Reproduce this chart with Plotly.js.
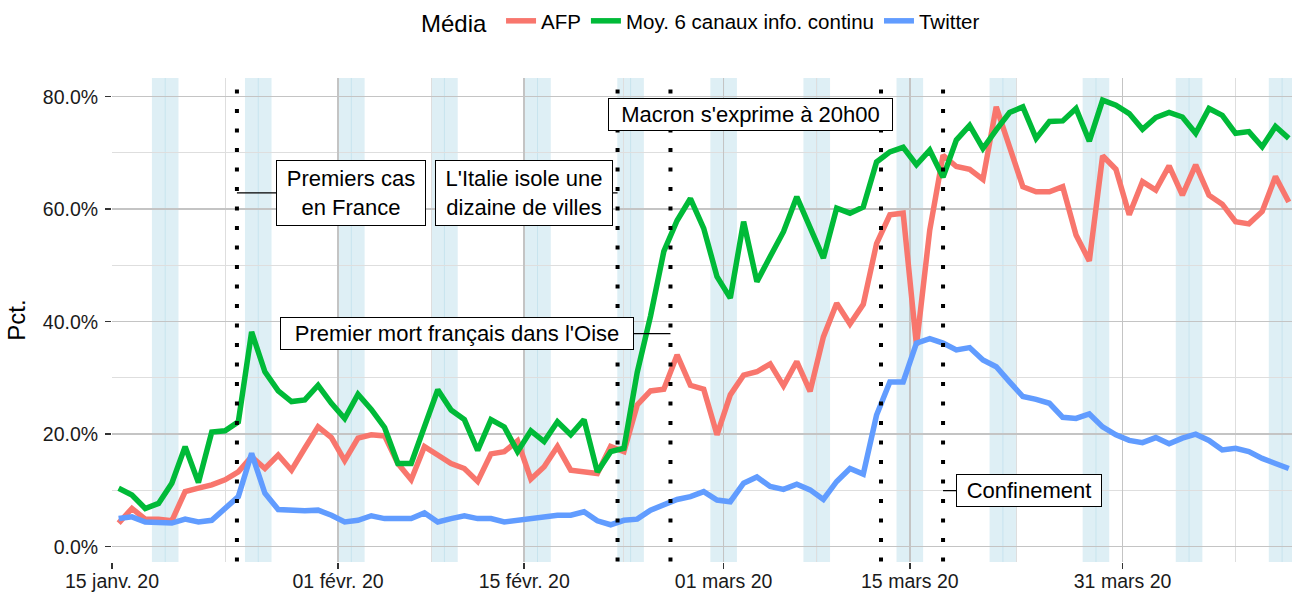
<!DOCTYPE html>
<html><head><meta charset="utf-8">
<script src="https://cdn.plot.ly/plotly-3.0.1.min.js"></script>
<style>html,body{margin:0;padding:0;background:#fff}#chart{width:1292px;height:592px}</style>
</head><body><div id="chart"></div>
<script>
// ---- data (daily values, %) ----
const days = [
"2020-01-15","2020-01-16","2020-01-17","2020-01-18","2020-01-19","2020-01-20","2020-01-21","2020-01-22","2020-01-23","2020-01-24",
"2020-01-25","2020-01-26","2020-01-27","2020-01-28","2020-01-29","2020-01-30","2020-01-31",
"2020-02-01","2020-02-02","2020-02-03","2020-02-04","2020-02-05","2020-02-06","2020-02-07","2020-02-08","2020-02-09","2020-02-10",
"2020-02-11","2020-02-12","2020-02-13","2020-02-14","2020-02-15","2020-02-16","2020-02-17","2020-02-18","2020-02-19","2020-02-20",
"2020-02-21","2020-02-22","2020-02-23","2020-02-24","2020-02-25","2020-02-26","2020-02-27","2020-02-28","2020-02-29",
"2020-03-01","2020-03-02","2020-03-03","2020-03-04","2020-03-05","2020-03-06","2020-03-07","2020-03-08","2020-03-09","2020-03-10",
"2020-03-11","2020-03-12","2020-03-13","2020-03-14","2020-03-15","2020-03-16","2020-03-17","2020-03-18","2020-03-19","2020-03-20",
"2020-03-21","2020-03-22","2020-03-23","2020-03-24","2020-03-25","2020-03-26","2020-03-27","2020-03-28","2020-03-29","2020-03-30","2020-03-31",
"2020-04-01","2020-04-02","2020-04-03","2020-04-04","2020-04-05","2020-04-06","2020-04-07","2020-04-08","2020-04-09","2020-04-10",
"2020-04-11","2020-04-12"];

const afp = [
4.2,6.8,4.9,4.9,4.6,9.8,10.4,11.0,11.9,13.3,
16.0,13.9,16.3,13.6,17.5,21.3,19.4,
15.3,19.3,19.9,19.7,14.8,11.9,17.8,16.3,14.8,13.9,
11.6,16.5,16.9,18.8,12.0,14.2,17.8,13.6,13.3,13.0,
17.8,16.9,25.2,27.7,28.0,34.1,28.7,28.0,19.9,
27.0,30.5,31.1,32.5,28.6,32.9,27.6,37.3,43.3,39.6,
43.1,53.9,59.0,59.3,35.8,56.3,69.6,67.6,67.1,65.3,
78.2,71.1,64.0,63.1,63.1,64.0,55.4,50.8,69.5,67.1,59.0,
64.9,63.4,67.7,62.5,67.9,62.5,60.9,57.8,57.4,59.6,
65.8,61.3];

const infoContinu = [
10.4,9.2,6.8,7.7,11.3,17.8,11.4,20.4,20.6,22.2,
38.2,31.1,27.7,25.8,26.1,28.7,25.5,
22.8,27.1,24.4,21.2,14.8,14.8,21.2,27.9,24.3,22.6,
17.1,22.6,21.3,16.9,20.6,18.7,22.2,19.9,22.6,13.3,
16.9,17.5,31.0,41.0,52.5,58.0,61.9,56.6,48.0,
44.2,57.8,47.1,51.6,56.0,62.2,56.6,51.3,60.2,59.3,
60.4,68.4,70.2,71.0,67.9,70.5,65.7,72.3,74.9,70.8,
74.1,77.2,78.2,72.6,75.6,75.7,77.9,72.1,79.4,78.5,77.0,
74.2,76.3,77.2,76.4,73.5,77.9,76.7,73.5,73.8,71.1,
74.7,72.6];

const twitter = [
5.0,5.3,4.4,4.4,4.2,4.9,4.4,4.7,6.8,8.9,
16.6,9.5,6.6,6.4,6.4,6.5,5.6,
4.4,4.7,5.5,5.0,5.0,5.0,6.0,4.4,5.0,5.5,
5.0,5.0,4.4,4.7,5.0,5.5,5.6,5.6,6.2,4.6,
3.9,4.7,4.9,6.5,7.4,8.4,8.9,9.8,8.3,
8.0,11.3,12.4,10.7,10.2,11.1,10.1,8.4,11.6,13.9,
12.9,23.4,29.3,29.3,36.2,37.0,36.2,35.0,35.4,33.2,
32.0,29.3,26.7,26.2,25.5,23.0,22.8,23.6,21.3,19.9,18.9,
18.5,19.4,18.3,19.3,20.0,18.9,17.2,17.5,16.9,15.7,
14.8,13.9];

const seriesNames = ["AFP", "Moy. 6 canaux info. continu", "Twitter"];
const seriesValues = [afp, infoContinu, twitter];
const seriesColors = ["#F8766D", "#00BA38", "#619CFF"];

const weekendStarts = ["2020-01-18","2020-01-25","2020-02-01","2020-02-08","2020-02-15","2020-02-22","2020-02-29",
  "2020-03-07","2020-03-14","2020-03-21","2020-03-28","2020-04-04","2020-04-11"];

const eventTimes = ["2020-01-24 09:30","2020-02-22 00:30","2020-02-26 00:00","2020-03-12 20:00","2020-03-17 12:00"];
const eventLabels = ["Premiers cas<br>en France","L'Italie isole une<br>dizaine de villes",
  "Premier mort français dans l'Oise","Macron s'exprime à 20h00","Confinement"];

const xTickVals = ["2020-01-15","2020-02-01","2020-02-15","2020-03-01","2020-03-15","2020-03-31"];
const xTickText = ["15 janv. 20","01 févr. 20","15 févr. 20","01 mars 20","15 mars 20","31 mars 20"];
const xMinorVals = ["2020-01-23 12:00","2020-02-08","2020-02-22 12:00","2020-03-08","2020-03-23","2020-04-08 12:00"];
const yTickVals = [0, 20, 40, 60, 80];
const yTickText = ["0.0%", "20.0%", "40.0%", "60.0%", "80.0%"];
const yMinorVals = [10, 30, 50, 70];

// ---- layout helpers (styling only) ----
const FONT = "Liberation Sans, Arial, Helvetica, sans-serif";
function addDays(s, n) {
  const d = new Date(s + "T00:00:00Z");
  d.setUTCDate(d.getUTCDate() + n);
  return d.toISOString().slice(0, 10);
}

const traces = seriesNames.map((name, i) => ({
  type: "scatter", mode: "lines", name: name,
  x: days.map(d => d + " 12:00"), y: seriesValues[i],
  line: { color: seriesColors[i], width: 5.5 },
  hoverinfo: "skip"
}));

const shapes = [];
weekendStarts.forEach(s => {
  shapes.push({ type: "rect", xref: "x", yref: "paper", x0: s, x1: addDays(s, 2), y0: 0, y1: 1,
    fillcolor: "rgba(173,216,230,0.4)", line: { width: 0 }, layer: "between" });
  shapes.push({ type: "line", xref: "x", yref: "paper", x0: addDays(s, 1), x1: addDays(s, 1), y0: 0, y1: 1,
    line: { color: "rgba(173,216,230,0.45)", width: 1 }, layer: "between" });
});
eventTimes.forEach(t => {
  shapes.push({ type: "line", xref: "x", yref: "y", x0: t, x1: t, y0: 81.3, y1: -2.7,
    line: { color: "#000", width: 4, dash: "4px,15.5px" }, layer: "above" });
});

// annotation placement: [pixel offset x, y (%), box width, box height, arrow]
const labelPlacement = [
  { ax: 114, y: 62.9, w: 142, h: 58, arrow: true },
  { ax: -94, y: 62.9, w: 170, h: 58, arrow: true },
  { ax: -213, y: 37.9, w: 346, h: 25, arrow: true },
  { ax: -130.7, y: 76.84, w: 277, h: 25, arrow: false },
  { ax: 86.4, y: 9.96, w: 138, h: 25, arrow: true }
];
const annotations = eventLabels.map((lab, i) => {
  const p = labelPlacement[i];
  const a = { x: eventTimes[i], y: p.y, xref: "x", yref: "y", text: lab,
    font: { family: FONT, size: 22, color: "#000" },
    bgcolor: "#fff", bordercolor: "#000", borderwidth: 1, borderpad: 3,
    width: p.w, height: p.h, align: "center", valign: "middle" };
  if (p.arrow) {
    Object.assign(a, { showarrow: true, ax: p.ax, ay: 0, arrowhead: 0, arrowwidth: 1.3,
      arrowcolor: "#000", standoff: 0, startstandoff: 0 });
  } else {
    Object.assign(a, { showarrow: false, xshift: p.ax });
  }
  return a;
});

const layout = {
  width: 1292, height: 592,
  margin: { l: 112, r: 0, t: 78, b: 30 },
  paper_bgcolor: "#fff", plot_bgcolor: "#fff",
  font: { family: FONT, color: "#1a1a1a" },
  showlegend: true,
  legend: {
    orientation: "h", x: 0.5, xanchor: "center", y: 1.1157, yanchor: "middle",
    title: { text: "Média ", side: "left", font: { size: 24, color: "#000" } },
    font: { size: 20.5, color: "#000" }, itemwidth: 30
  },
  xaxis: {
    type: "date", range: ["2020-01-15 00:00", "2020-04-12 17:50"],
    tickmode: "array", tickvals: xTickVals, ticktext: xTickText,
    tickfont: { size: 19.5, color: "#1a1a1a" },
    ticks: "outside", ticklen: 6, tickwidth: 1.5, tickcolor: "#333", ticklabelstandoff: -4,
    showgrid: true, gridcolor: "#c4c4c4", gridwidth: 1.5,
    minor: { tickmode: "array", tickvals: xMinorVals, showgrid: true, gridcolor: "#dedede", gridwidth: 1, ticks: "" },
    zeroline: false, showline: false, fixedrange: true
  },
  yaxis: {
    range: [-2.72, 83.33],
    tickmode: "array", tickvals: yTickVals, ticktext: yTickText,
    tickfont: { size: 19.5, color: "#1a1a1a" },
    ticks: "outside", ticklen: 6, tickwidth: 1.5, tickcolor: "#333", ticklabelstandoff: 3,
    showgrid: true, gridcolor: "#c4c4c4", gridwidth: 1.5,
    minor: { tickmode: "array", tickvals: yMinorVals, showgrid: true, gridcolor: "#dedede", gridwidth: 1, ticks: "" },
    zeroline: false, showline: false, fixedrange: true,
    title: { text: "Pct.", font: { size: 24, color: "#000" }, standoff: 10 }
  },
  shapes: shapes,
  annotations: annotations
};

Plotly.newPlot("chart", traces, layout, { displayModeBar: false, staticPlot: true });
</script>
</body></html>
